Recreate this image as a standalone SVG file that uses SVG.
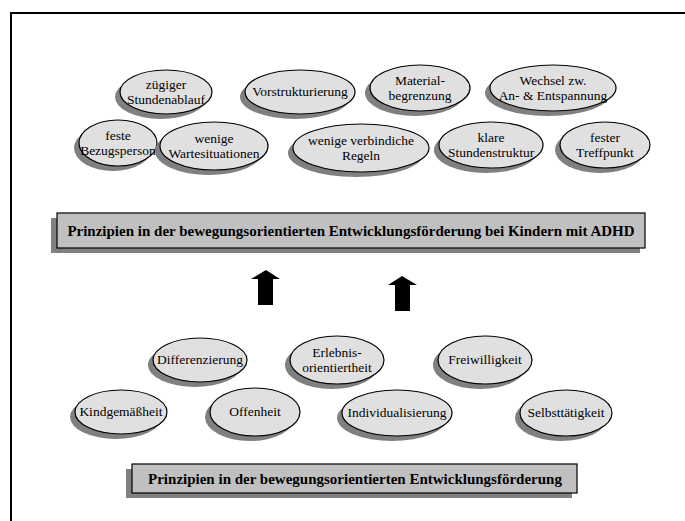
<svg xmlns="http://www.w3.org/2000/svg" width="685" height="521" viewBox="0 0 685 521">
<style>
.sh{fill:#808080;stroke:none}
.el{fill:#e0e0e0;stroke:#000;stroke-width:1.2}
.bx{fill:#c0c0c0;stroke:#000;stroke-width:1.2}
.t{font-family:"Liberation Serif","DejaVu Serif",serif;font-size:13.5px;fill:#000;text-anchor:middle}
.h{font-family:"Liberation Serif","DejaVu Serif",serif;font-size:15px;font-weight:bold;fill:#000;text-anchor:middle}
.ar{fill:#000}
</style>
<rect width="685" height="521" fill="#fff"/>
<path d="M11,521 V13 H685" fill="none" stroke="#000" stroke-width="2"/>

<g id="n-zuegiger"><ellipse class="sh" cx="161" cy="97" rx="46" ry="22"/><ellipse class="el" cx="166" cy="92" rx="46" ry="22"/><text class="t" x="166" y="89">zügiger</text><text class="t" x="166" y="104">Stundenablauf</text></g>
<g id="n-vorstrukturierung"><ellipse class="sh" cx="295" cy="97" rx="55" ry="22"/><ellipse class="el" cx="300" cy="92" rx="55" ry="22"/><text class="t" x="300" y="96">Vorstrukturierung</text></g>
<g id="n-material"><ellipse class="sh" cx="415" cy="93" rx="50" ry="23"/><ellipse class="el" cx="420" cy="88" rx="50" ry="23"/><text class="t" x="420" y="85">Material-</text><text class="t" x="420" y="100">begrenzung</text></g>
<g id="n-wechsel"><ellipse class="sh" cx="548" cy="93" rx="63" ry="23"/><ellipse class="el" cx="553" cy="88" rx="63" ry="23"/><text class="t" x="553" y="85">Wechsel zw.</text><text class="t" x="553" y="100">An- &amp; Entspannung</text></g>

<g id="n-feste"><ellipse class="sh" cx="113" cy="148" rx="39" ry="23"/><ellipse class="el" cx="118" cy="143" rx="39" ry="23"/><text class="t" x="118" y="140">feste</text><text class="t" x="118" y="155">Bezugsperson</text></g>
<g id="n-wenige-warte"><ellipse class="sh" cx="209" cy="151" rx="54" ry="24"/><ellipse class="el" cx="214" cy="146" rx="54" ry="24"/><text class="t" x="214" y="143">wenige</text><text class="t" x="214" y="158">Wartesituationen</text></g>
<g id="n-wenige-regeln"><ellipse class="sh" cx="356" cy="153" rx="68" ry="24"/><ellipse class="el" cx="361" cy="148" rx="68" ry="24"/><text class="t" x="361" y="145">wenige verbindiche</text><text class="t" x="361" y="160">Regeln</text></g>
<g id="n-klare"><ellipse class="sh" cx="486" cy="150" rx="52" ry="23"/><ellipse class="el" cx="491" cy="145" rx="52" ry="23"/><text class="t" x="491" y="142">klare</text><text class="t" x="491" y="157">Stundenstruktur</text></g>
<g id="n-fester"><ellipse class="sh" cx="600" cy="150" rx="45" ry="23"/><ellipse class="el" cx="605" cy="145" rx="45" ry="23"/><text class="t" x="605" y="142">fester</text><text class="t" x="605" y="157">Treffpunkt</text></g>

<g id="n-header-adhd"><rect class="sh" x="51" y="218" width="589" height="35"/><rect class="bx" x="57" y="213" width="588" height="35"/><text class="h" x="351" y="236">Prinzipien in der bewegungsorientierten Entwicklungsförderung bei Kindern mit ADHD</text></g>

<g id="connectors">
<polygon class="ar" points="266,270 280,279 273,279 273,305 258,305 258,279 251,279"/>
<polygon class="ar" points="402,276 417,285 410,285 410,311 395,311 395,285 388,285"/>
</g>

<g id="n-differenzierung"><ellipse class="sh" cx="195" cy="365" rx="47" ry="22"/><ellipse class="el" cx="200" cy="360" rx="47" ry="22"/><text class="t" x="200" y="364">Differenzierung</text></g>
<g id="n-erlebnis"><ellipse class="sh" cx="332" cy="365" rx="47" ry="24"/><ellipse class="el" cx="337" cy="360" rx="47" ry="24"/><text class="t" x="337" y="357">Erlebnis-</text><text class="t" x="337" y="372">orientiertheit</text></g>
<g id="n-freiwilligkeit"><ellipse class="sh" cx="480" cy="365" rx="47" ry="24"/><ellipse class="el" cx="485" cy="360" rx="47" ry="24"/><text class="t" x="485" y="364">Freiwilligkeit</text></g>
<g id="n-kindgemaessheit"><ellipse class="sh" cx="116" cy="417" rx="46" ry="22"/><ellipse class="el" cx="121" cy="412" rx="46" ry="22"/><text class="t" x="121" y="416">Kindgemäßheit</text></g>
<g id="n-offenheit"><ellipse class="sh" cx="250" cy="417" rx="45" ry="24"/><ellipse class="el" cx="255" cy="412" rx="45" ry="24"/><text class="t" x="255" y="416">Offenheit</text></g>
<g id="n-individualisierung"><ellipse class="sh" cx="392" cy="418" rx="55" ry="23"/><ellipse class="el" cx="397" cy="413" rx="55" ry="23"/><text class="t" x="397" y="417">Individualisierung</text></g>
<g id="n-selbsttaetigkeit"><ellipse class="sh" cx="561" cy="418" rx="46" ry="23"/><ellipse class="el" cx="566" cy="413" rx="46" ry="23"/><text class="t" x="566" y="417">Selbsttätigkeit</text></g>

<g id="n-header-base"><rect class="sh" x="126" y="469" width="446" height="29"/><rect class="bx" x="132" y="464" width="445" height="29"/><text class="h" x="355" y="484">Prinzipien in der bewegungsorientierten Entwicklungsförderung</text></g>
</svg>
